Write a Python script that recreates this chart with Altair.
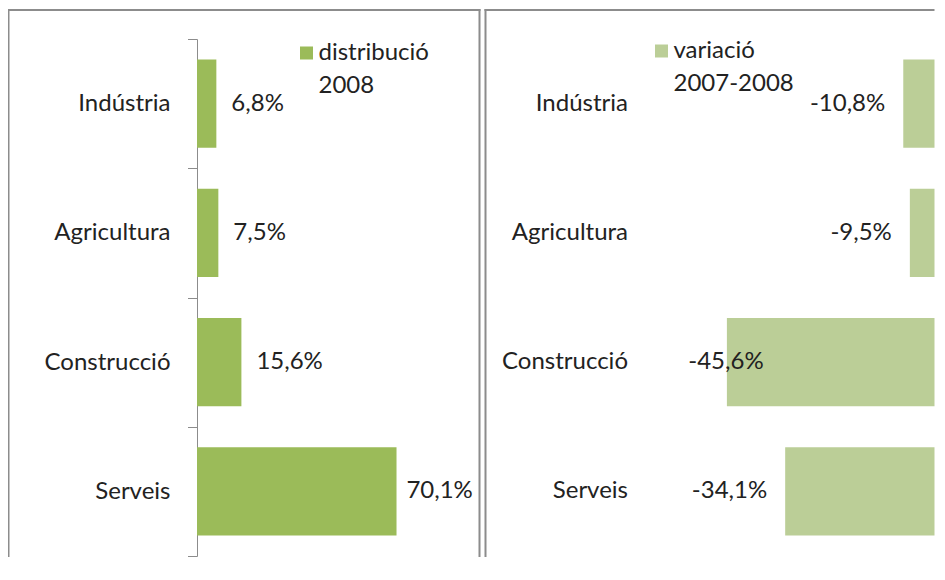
import altair as alt
import pandas as pd

# ---- data ----
categories = ["Indústria", "Agricultura", "Construcció", "Serveis"]
distribucio_2008 = [6.8, 7.5, 15.6, 70.1]
variacio_2007_2008 = [-10.8, -9.5, -45.6, -34.1]
series_left = ["distribució", "2008"]
series_right = ["variació", "2007-2008"]


def fmt(v):
    return f"{v:.1f}".replace(".", ",") + "%"


left_df = pd.DataFrame({
    "sector": categories,
    "valor": distribucio_2008,
    "serie": " ".join(series_left),
    "etiqueta": [fmt(v) for v in distribucio_2008],
})
right_df = pd.DataFrame({
    "sector": categories,
    "valor": variacio_2007_2008,
    "serie": " ".join(series_right),
    "etiqueta": [fmt(v) for v in variacio_2007_2008],
})
frame_df = pd.DataFrame({"frame": [1]})

# ---- styling ----
FONT = "Lato"
FS = 24
TEXT = "#222222"
BORDER = "#8c8c8c"
GREEN = "#9BBB59"
LIGHT_GREEN = "#BBCE97"
H = 548
W_LEFT = 473
W_RIGHT = 450
BAND_RANGE = [30, 547]
PX_PER_PCT_RIGHT = 5.068
RIGHT_MAX = -4.637
RIGHT_MIN = RIGHT_MAX - W_RIGHT / PX_PER_PCT_RIGHT

y_scale = alt.Scale(range=BAND_RANGE, paddingInner=0, paddingOuter=0)


def legend(x, y, lines):
    return alt.Legend(
        title=lines, orient="none", legendX=x, legendY=y, padding=0,
        titleOrient="right", titleAnchor="start", titleBaseline="top",
        titleAlign="left", titleFont=FONT, titleFontSize=FS,
        titleFontWeight="normal", titleColor=TEXT, titleLineHeight=33,
        titlePadding=0, titleLimit=400,
        symbolType="square", symbolSize=169, symbolStrokeWidth=0,
        labelExpr="''", labelOffset=0, labelFontSize=FS,
    )


def vline(xpos):
    return alt.Chart(frame_df).mark_rule(color=BORDER, strokeWidth=2).encode(
        x=alt.value(xpos), y=alt.value(0), y2=alt.value(H)
    )


def hline(width):
    return alt.Chart(frame_df).mark_rule(color=BORDER, strokeWidth=2).encode(
        x=alt.value(0), x2=alt.value(width), y=alt.value(1)
    )


# ---- left panel ----
x_left = alt.Scale(domain=[0, 80], range=[189.5, 417.2])
y_left = alt.Y(
    "sector:N", sort=categories, scale=y_scale,
    axis=alt.Axis(
        title=None, offset=-189.5, tickBand="extent", tickSize=9.5,
        labelPadding=17.5, domainColor=BORDER, tickColor=BORDER,
        domainWidth=1, tickWidth=1, grid=False,
        labelFont=FONT, labelFontSize=FS, labelColor=TEXT, labelLimit=300,
    ),
)
bars_left = alt.Chart(left_df).mark_bar(height={"band": 0.683}).encode(
    y=y_left,
    x=alt.X("valor:Q", scale=x_left, axis=None),
    color=alt.Color("serie:N", scale=alt.Scale(range=[GREEN]),
                    legend=legend(287, 32, series_left)),
)
text_left = alt.Chart(left_df).transform_calculate(
    pos="min(datum.valor, 68.3)"
).mark_text(align="left", baseline="middle", dx=15, font=FONT, fontSize=FS, color=TEXT).encode(
    y=y_left,
    x=alt.X("pos:Q", scale=x_left, axis=None),
    text="etiqueta:N",
)
left = alt.layer(
    vline(1), vline(W_LEFT - 1), hline(W_LEFT), bars_left, text_left
).properties(width=W_LEFT, height=H)

# ---- right panel ----
x_right = alt.Scale(domain=[RIGHT_MIN, RIGHT_MAX], clamp=True, zero=False, nice=False)
y_right = alt.Y(
    "sector:N", sort=categories, scale=y_scale,
    axis=alt.Axis(
        title=None, offset=-143, domain=False, ticks=False, tickSize=0,
        labelPadding=0, grid=False,
        labelFont=FONT, labelFontSize=FS, labelColor=TEXT, labelLimit=300,
    ),
)
bars_right = alt.Chart(right_df).mark_bar(height={"band": 0.683}).encode(
    y=y_right,
    x=alt.X("valor:Q", scale=x_right, axis=None),
    x2=alt.datum(0),
    color=alt.Color("serie:N", scale=alt.Scale(range=[LIGHT_GREEN]),
                    legend=legend(165, 30, series_right)),
)
text_right = alt.Chart(right_df).transform_calculate(
    pos="max(datum.valor, -34.8)"
).mark_text(align="right", baseline="middle", dx=-18, font=FONT, fontSize=FS, color=TEXT).encode(
    y=y_right,
    x=alt.X("pos:Q", scale=x_right, axis=None),
    text="etiqueta:N",
)
right = alt.layer(
    vline(1), hline(W_RIGHT), bars_right, text_right
).properties(width=W_RIGHT, height=H)

chart = alt.hconcat(left, right, spacing=0).resolve_scale(
    x="independent", y="independent", color="independent"
).resolve_legend(color="independent").configure(
    view=alt.ViewConfig(stroke="transparent"),
).properties(
    padding={"top": -12, "left": -2.5, "right": 0, "bottom": 0},
    background="white",
)

chart.save("out.html", embed_options={"renderer": "svg", "actions": False})
